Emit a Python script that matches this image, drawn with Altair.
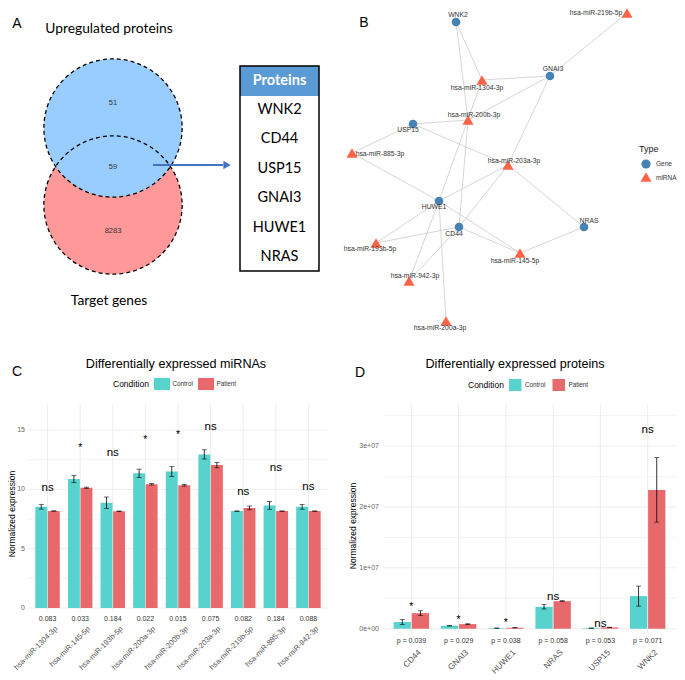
import altair as alt
import pandas as pd

# ---------------- data ----------------
# Panel A: Venn + table
venn_titles = ["Upregulated proteins", "Target genes"]
venn_counts = ["51", "59", "8283"]
table_header = "Proteins"
table_rows = ["WNK2", "CD44", "USP15", "GNAI3", "HUWE1", "NRAS"]

# Panel B: network (layout positions)
node_names = ["WNK2", "GNAI3", "USP15", "HUWE1", "CD44", "NRAS",
              "hsa-miR-219b-5p", "hsa-miR-1304-3p", "hsa-miR-200b-3p", "hsa-miR-885-3p",
              "hsa-miR-203a-3p", "hsa-miR-193b-5p", "hsa-miR-145-5p", "hsa-miR-942-3p",
              "hsa-miR-200a-3p"]
node_types = ["Gene"] * 6 + ["miRNA"] * 9
node_x = [456, 550, 413, 439, 459, 584, 627, 482, 468, 352, 508, 376, 520, 409, 446]
node_y = [22, 76, 124, 201, 227, 227, 13, 80, 120, 153, 165, 243, 253, 281, 321]
label_x = [458, 553, 408, 434, 454, 589, 596, 477, 474, 380, 514, 370, 515, 415, 440]
label_y = [15, 69, 130, 207, 234, 221, 13, 88, 115, 154, 161, 249, 261, 276, 328]
edge_gene = ["WNK2", "WNK2", "GNAI3", "GNAI3", "GNAI3", "GNAI3", "USP15", "USP15", "USP15",
             "HUWE1", "HUWE1", "HUWE1", "HUWE1", "HUWE1", "HUWE1", "HUWE1",
             "CD44", "CD44", "CD44", "CD44", "CD44", "NRAS", "NRAS"]
edge_mirna = ["hsa-miR-1304-3p", "hsa-miR-200b-3p", "hsa-miR-219b-5p", "hsa-miR-1304-3p",
              "hsa-miR-200b-3p", "hsa-miR-203a-3p", "hsa-miR-200b-3p", "hsa-miR-885-3p",
              "hsa-miR-203a-3p", "hsa-miR-885-3p", "hsa-miR-203a-3p", "hsa-miR-1304-3p",
              "hsa-miR-193b-5p", "hsa-miR-145-5p", "hsa-miR-942-3p", "hsa-miR-200a-3p",
              "hsa-miR-200b-3p", "hsa-miR-203a-3p", "hsa-miR-193b-5p", "hsa-miR-145-5p",
              "hsa-miR-942-3p", "hsa-miR-145-5p", "hsa-miR-203a-3p"]

# Panel C: miRNAs
conditions = ["Control", "Patient"]
mirnas = ["hsa-miR-1304-3p", "hsa-miR-145-5p", "hsa-miR-193b-5p", "hsa-miR-200a-3p",
          "hsa-miR-200b-3p", "hsa-miR-203a-3p", "hsa-miR-219b-5p", "hsa-miR-885-3p",
          "hsa-miR-942-3p"]
mir_control = [8.54, 10.87, 8.88, 11.36, 11.5, 12.95, 8.17, 8.65, 8.53]
mir_control_err = [0.2, 0.3, 0.48, 0.35, 0.42, 0.39, 0.02, 0.33, 0.2]
mir_patient = [8.18, 10.14, 8.16, 10.43, 10.35, 12.05, 8.44, 8.17, 8.17]
mir_patient_err = [0.02, 0.05, 0.02, 0.06, 0.07, 0.23, 0.16, 0.02, 0.02]
mir_p = ["0.083", "0.033", "0.184", "0.022", "0.015", "0.075", "0.082", "0.184", "0.088"]
mir_sig = ["ns", "*", "ns", "*", "*", "ns", "ns", "ns", "ns"]
mir_sig_y = [10.1, 13.7, 13.1, 14.3, 14.75, 15.3, 9.8, 11.8, 10.2]
c_tick_vals = [0, 5, 10, 15]
c_tick_labels = ["0", "5", "10", "15"]
c_minor_vals = [2.5, 7.5, 12.5]

# Panel D: proteins
prots = ["CD44", "GNAI3", "HUWE1", "NRAS", "USP15", "WNK2"]
prot_control = [1.1e6, 0.49e6, 0.1e6, 3.6e6, 0.1e6, 5.36e6]
prot_control_err = [0.4e6, 0.05e6, 0.02e6, 0.36e6, 0.02e6, 1.65e6]
prot_patient = [2.56e6, 0.76e6, 0.16e6, 4.53e6, 0.22e6, 22.8e6]
prot_patient_err = [0.39e6, 0.06e6, 0.02e6, 0.08e6, 0.03e6, 5.3e6]
prot_p = ["p = 0.039", "p = 0.029", "p = 0.038", "p = 0.058", "p = 0.053", "p = 0.071"]
prot_sig = ["*", "*", "*", "ns", "ns", "ns"]
prot_sig_y = [3.83e6, 1.8e6, 1.2e6, 5.2e6, 0.76e6, 32.6e6]
d_tick_vals = [0, 1e7, 2e7, 3e7]
d_tick_labels = ["0e+00", "1e+07", "2e+07", "3e+07"]
d_minor_vals = [0.5e7, 1.5e7, 2.5e7, 3.5e7]

# ---------------- layout / style ----------------
W, H, OFF = 669, 664, 8
SB = -4                      # vertical shift of the bottom row
FONT = "Liberation Sans"
AFONT = "Lato"
TEAL, RED = "#57D2CD", "#E8696C"
GENE_C, MIR_C = "#4682B4", "#FF6347"
GRID = "#EBEBEB"

PXS = alt.Scale(domain=[OFF, OFF + W], range=[0, W])
PYS = alt.Scale(domain=[OFF, OFF + H], range=[0, H])
COLS = alt.Scale(domain=conditions, range=[TEAL, RED])


def PX(f="x"):
    return alt.X(f"{f}:Q", scale=PXS, axis=None)


def PY(f="y"):
    return alt.Y(f"{f}:Q", scale=PYS, axis=None)


def ptext(rows, **mk):
    df = pd.DataFrame(rows, columns=["x", "y", "t"])
    return alt.Chart(df).mark_text(**mk).encode(x=PX(), y=PY(), text="t:N")


layers = []

# ---------- Panel A ----------
circ = pd.DataFrame({"x": [113, 113], "y": [128, 205], "set": venn_titles})
red_c = circ[circ.set == "Target genes"]
blue_c = circ[circ.set == "Upregulated proteins"]
layers.append(alt.Chart(red_c).mark_point(shape="circle", size=19113, filled=True,
                                            color="#FF9999", opacity=1, strokeWidth=0)
              .encode(x=PX(), y=PY()))
layers.append(alt.Chart(blue_c).mark_point(shape="circle", size=19113, filled=True,
                                             color="#99CCFF", opacity=1, strokeWidth=0)
              .encode(x=PX(), y=PY()))
layers.append(alt.Chart(circ).mark_point(shape="circle", size=19113, filled=False,
                                           color="black", opacity=1, strokeWidth=1.3,
                                           strokeDash=[4, 3])
              .encode(x=PX(), y=PY()))
layers.append(ptext([(113, 103, venn_counts[0]), (113, 167, venn_counts[1]),
                     (113, 231, venn_counts[2])],
                    font=FONT, fontSize=7.5, color="#333333"))
layers.append(ptext([(109, 29, venn_titles[0]), (109, 301, venn_titles[1])],
                    font=AFONT, fontSize=13.8, color="black"))
# arrow
arrow = pd.DataFrame({"x": [153], "x2": [223], "y": [165]})
layers.append(alt.Chart(arrow).mark_rule(color="#4472C4", strokeWidth=2)
              .encode(x=PX(), x2=alt.X2("x2:Q"), y=PY()))
layers.append(alt.Chart(pd.DataFrame({"x": [227], "y": [165]}))
              .mark_point(shape="triangle-right", size=70, filled=True, color="#4472C4", opacity=1)
              .encode(x=PX(), y=PY()))
# table
hdr = pd.DataFrame({"x": [240], "x2": [319], "y": [66], "y2": [96]})
layers.append(alt.Chart(hdr).mark_rect(color="#5B9BD5")
              .encode(x=PX(), x2=alt.X2("x2:Q"), y=PY(), y2=alt.Y2("y2:Q")))
box = pd.DataFrame({"x": [240], "x2": [319], "y": [66], "y2": [271]})
layers.append(alt.Chart(box).mark_rect(fillOpacity=0, stroke="black", strokeWidth=1.5)
              .encode(x=PX(), x2=alt.X2("x2:Q"), y=PY(), y2=alt.Y2("y2:Q")))
layers.append(ptext([(279.5, 81, table_header)], font=AFONT, fontSize=14.5,
                    fontWeight="bold", color="white"))
layers.append(ptext([(279.5, 110 + i * 29.4, p) for i, p in enumerate(table_rows)],
                    font=AFONT, fontSize=14.5, color="black"))
layers.append(ptext([(17, 24, "A"), (364, 23, "B")], font=FONT, fontSize=14, color="black"))

# ---------- Panel B ----------
pos = {n: (x, y) for n, x, y in zip(node_names, node_x, node_y)}
edges = pd.DataFrame({
    "x": [pos[g][0] for g in edge_gene], "y": [pos[g][1] for g in edge_gene],
    "x2": [pos[m][0] for m in edge_mirna], "y2": [pos[m][1] for m in edge_mirna]})
layers.append(alt.Chart(edges).mark_rule(color="#CCCCCC", strokeWidth=0.8)
              .encode(x=PX(), y=PY(), x2=alt.X2("x2:Q"), y2=alt.Y2("y2:Q")))
nodes = pd.DataFrame({"name": node_names, "type": node_types, "x": node_x, "y": node_y,
                      "lx": label_x, "ly": label_y})
layers.append(alt.Chart(nodes).transform_filter(alt.datum.type == "Gene")
              .mark_point(shape="circle", size=75, filled=True, color=GENE_C, opacity=1)
              .encode(x=PX(), y=PY()))
layers.append(alt.Chart(nodes).transform_filter(alt.datum.type == "miRNA")
              .mark_point(shape="triangle-up", size=125, filled=True, color=MIR_C, opacity=1)
              .encode(x=PX(), y=PY()))
layers.append(alt.Chart(nodes).mark_text(font=FONT, fontSize=6.8, color="#333333")
              .encode(x=PX("lx"), y=PY("ly"), text="name:N"))
layers.append(ptext([(639, 149, "Type")], font=FONT, fontSize=9, align="left", color="#222222"))
layers.append(ptext([(656, 164, "Gene"), (656, 178, "miRNA")], font=FONT, fontSize=6.5,
                    align="left", color="#333333"))
layers.append(alt.Chart(pd.DataFrame({"x": [646], "y": [164]}))
              .mark_point(shape="circle", size=85, filled=True, color=GENE_C, opacity=1)
              .encode(x=PX(), y=PY()))
layers.append(alt.Chart(pd.DataFrame({"x": [646], "y": [177]}))
              .mark_point(shape="triangle-up", size=125, filled=True, color=MIR_C, opacity=1)
              .encode(x=PX(), y=PY()))

# ---------- Panel C/D decorations (titles, legends, axis titles) ----------
layers.append(ptext([(176, 368 + SB, "Differentially expressed miRNAs"),
                     (515, 368 + SB, "Differentially expressed proteins")],
                    font=FONT, fontSize=12.6, color="black"))
layers.append(ptext([(17, 376 + SB, "C"), (360, 377 + SB, "D")], font=FONT, fontSize=14,
                    color="black"))
layers.append(ptext([(113, 388 + SB, "Condition"), (468, 389 + SB, "Condition")],
                    font=FONT, fontSize=8.5, align="left", color="black"))
keys = pd.DataFrame({
    "cond": conditions * 2,
    "x": [154, 198, 509, 552.5], "x2": [170, 214, 521.5, 565],
    "y": [382 + SB, 382 + SB, 383 + SB, 383 + SB], "y2": [394 + SB, 394 + SB, 395 + SB, 395 + SB]})
layers.append(alt.Chart(keys).mark_rect()
              .encode(x=PX(), x2=alt.X2("x2:Q"), y=PY(), y2=alt.Y2("y2:Q"),
                      color=alt.Color("cond:N", scale=COLS, legend=None)))
layers.append(ptext([(172.5, 388 + SB, conditions[0]), (216.5, 388 + SB, conditions[1]),
                     (525, 389 + SB, conditions[0]), (568.5, 389 + SB, conditions[1])],
                    font=FONT, fontSize=6.3, align="left", color="#333333"))
layers.append(ptext([(12, 518 + SB, "Normalized expression"),
                     (353, 530 + SB, "Normalized expression")],
                    font=FONT, fontSize=8.5, angle=270, color="black"))

pix = alt.layer(*layers)


# ---------- bar panels ----------
def bar_panel(cats, ctrl, ctrl_e, pat, pat_e, pvals, sig, sig_y,
              x0, x1, ytop, ybot, ydom, tick_vals, tick_labels, minor_vals,
              lab_fs, lab_y, lab_band, p_y, p_fs, ylab_pad):
    df = pd.DataFrame({
        "cat": cats * 2,
        "cond": [conditions[0]] * len(cats) + [conditions[1]] * len(cats),
        "val": ctrl + pat,
        "err": ctrl_e + pat_e})
    df["lo"] = df["val"] - df["err"]
    df["hi"] = df["val"] + df["err"]
    sdf = pd.DataFrame({"cat": cats, "p": pvals, "sig": sig, "sy": sig_y})
    major = pd.DataFrame({"v": tick_vals, "lab": tick_labels})
    minor = pd.DataFrame({"v": minor_vals})

    xs = alt.Scale(domain=cats, range=[x0 - OFF, x1 - OFF], paddingInner=0.25,
                   paddingOuter=0.225)
    ys = alt.Scale(domain=ydom, range=[ybot - OFF, ytop - OFF])
    xo = alt.Scale(domain=conditions, paddingInner=0.05)

    def xenc(**kw):
        return alt.X("cat:N", scale=xs, axis=None, **kw)

    def yenc(f):
        return alt.Y(f"{f}:Q", scale=ys, axis=None)

    grid_major = alt.Chart(major).mark_rule(color=GRID, strokeWidth=0.9).encode(
        y=yenc("v"), x=alt.value(x0 - OFF), x2=alt.value(x1 - OFF))
    grid_minor = alt.Chart(minor).mark_rule(color=GRID, strokeWidth=0.6).encode(
        y=yenc("v"), x=alt.value(x0 - OFF), x2=alt.value(x1 - OFF))
    grid_x = alt.Chart(sdf).mark_rule(color=GRID, strokeWidth=0.9).encode(
        x=xenc(), y=alt.value(ytop - OFF), y2=alt.value(ybot - OFF))
    ylabels = alt.Chart(major).mark_text(font=FONT, fontSize=7, color="#666666",
                                         align="right", baseline="middle").encode(
        y=yenc("v"), x=alt.value(x0 - OFF - ylab_pad), text="lab:N")
    xlabels = alt.Chart(sdf).mark_text(font=FONT, fontSize=lab_fs, color="#555555",
                                       align="right", baseline="top", angle=315).encode(
        x=xenc(bandPosition=lab_band), y=alt.value(lab_y - OFF), text="cat:N")

    bars = alt.Chart(df).mark_bar().encode(
        x=xenc(),
        xOffset=alt.XOffset("cond:N", scale=xo),
        y=yenc("val"),
        color=alt.Color("cond:N", scale=COLS, legend=None))
    stem = alt.Chart(df).mark_rule(color="black", strokeWidth=0.8).encode(
        x=xenc(), xOffset=alt.XOffset("cond:N", scale=xo),
        y=yenc("lo"), y2=alt.Y2("hi:Q"))
    cap_lo = alt.Chart(df).mark_tick(color="black", thickness=0.8, size=5,
                                     orient="horizontal").encode(
        x=xenc(), xOffset=alt.XOffset("cond:N", scale=xo), y=yenc("lo"))
    cap_hi = alt.Chart(df).mark_tick(color="black", thickness=0.8, size=5,
                                     orient="horizontal").encode(
        x=xenc(), xOffset=alt.XOffset("cond:N", scale=xo), y=yenc("hi"))
    ns = alt.Chart(sdf).transform_filter(alt.datum.sig == "ns").mark_text(
        font=FONT, fontSize=11.5, color="black").encode(
        x=xenc(), y=yenc("sy"), text="sig:N")
    star = alt.Chart(sdf).transform_filter(alt.datum.sig == "*").mark_text(
        font=FONT, fontSize=10.5, color="black", dy=2).encode(
        x=xenc(), y=yenc("sy"), text="sig:N")
    ptxt = alt.Chart(sdf).mark_text(font=FONT, fontSize=p_fs, color="#333333").encode(
        x=xenc(), y=alt.value(p_y - OFF), text="p:N")
    return alt.layer(grid_minor, grid_major, grid_x, ylabels, xlabels,
                     bars, stem, cap_lo, cap_hi, ns, star, ptxt)


cpanel = bar_panel(mirnas, mir_control, mir_control_err, mir_patient, mir_patient_err,
                   mir_p, mir_sig, mir_sig_y,
                   x0=28, x1=328, ytop=408 + SB, ybot=615 + SB, ydom=[-0.25, 17.2],
                   tick_vals=c_tick_vals, tick_labels=c_tick_labels, minor_vals=c_minor_vals,
                   lab_fs=7.5, lab_y=629 + SB, lab_band=0.75, p_y=623 + SB, p_fs=7, ylab_pad=3)
dpanel = bar_panel(prots, prot_control, prot_control_err, prot_patient, prot_patient_err,
                   prot_p, prot_sig, prot_sig_y,
                   x0=383, x1=676, ytop=408 + SB, ybot=637 + SB, ydom=[-0.07e7, 3.69e7],
                   tick_vals=d_tick_vals, tick_labels=d_tick_labels, minor_vals=d_minor_vals,
                   lab_fs=8.3, lab_y=652 + SB, lab_band=0.65, p_y=645 + SB, p_fs=7, ylab_pad=4)

chart = (alt.layer(pix, cpanel, dpanel)
         .resolve_scale(x="independent", y="independent", xOffset="independent")
         .properties(width=W, height=H, padding=0)
         .configure_view(stroke=None))

chart.save("out.html", embed_options={"renderer": "svg", "actions": False})
